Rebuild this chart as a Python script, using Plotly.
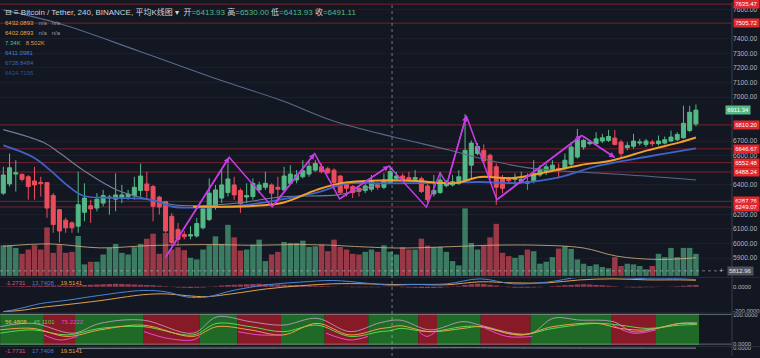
import plotly.graph_objects as go

# ---------------- data ----------------
bar_index = list(range(1, 113))

candle_open = [6344, 6407, 6474, 6472, 6456, 6427, 6418, 6416, 6328, 6231,
               6159, 6141, 6118, 6213, 6258, 6242, 6276, 6310, 6303, 6310,
               6321, 6326, 6362, 6407, 6389, 6317, 6287, 6186, 6096, 6062,
               6051, 6051, 6107, 6164, 6254, 6310, 6348, 6400, 6362, 6317,
               6321, 6366, 6384, 6400, 6384, 6366, 6411, 6434, 6456, 6474,
               6501, 6524, 6510, 6501, 6461, 6404, 6389, 6377, 6362, 6371,
               6400, 6384, 6413.93, 6445, 6461, 6450, 6438, 6443, 6393, 6339,
               6348, 6395, 6400, 6411, 6429, 6535, 6614, 6636, 6603, 6524,
               6445, 6438, 6438, 6423, 6423, 6423, 6468, 6490, 6501, 6513,
               6513, 6542, 6591, 6659, 6682, 6682, 6700, 6704, 6720, 6693,
               6655, 6664, 6686, 6677, 6693, 6682, 6686, 6700, 6709, 6722,
               6772, 6817]
candle_high = [6524, 6614, 6569, 6479, 6467, 6524, 6456, 6420, 6344, 6236,
               6175, 6152, 6490, 6411, 6299, 6344, 6366, 6332, 6479, 6400,
               6366, 6456, 6546, 6490, 6400, 6326, 6290, 6208, 6141, 6085,
               6118, 6175, 6242, 6445, 6400, 6501, 6546, 6456, 6377, 6411,
               6445, 6423, 6490, 6411, 6456, 6524, 6535, 6501, 6569, 6558,
               6569, 6546, 6524, 6513, 6467, 6423, 6400, 6393, 6423, 6468,
               6411, 6479, 6530.00, 6490, 6479, 6490, 6501, 6456, 6411, 6468,
               6490, 6434, 6468, 6501, 6884, 6704, 6686, 6677, 6614, 6546,
               6468, 6456, 6479, 6490, 6479, 6569, 6535, 6546, 6569, 6546,
               6614, 6693, 6783, 6715, 6704, 6760, 6749, 6776, 6776, 6709,
               6693, 6749, 6715, 6715, 6709, 6738, 6731, 6772, 6760, 6941,
               6941, 6950]
candle_low = [6332, 6389, 6355, 6423, 6299, 6299, 6321, 6175, 6073, 6006,
              6073, 6073, 6073, 6152, 6141, 6220, 6253, 6197, 6220, 6276,
              6299, 6299, 6321, 6299, 6152, 6197, 6073, 5983, 5983, 6028,
              6028, 6040, 6096, 6152, 6231, 6276, 6321, 6298, 6208, 6276,
              6299, 6344, 6366, 6254, 6299, 6355, 6400, 6411, 6445, 6456,
              6490, 6479, 6474, 6400, 6339, 6321, 6310, 6321, 6344, 6355,
              6366, 6371, 6413.93, 6434, 6423, 6423, 6434, 6344, 6276, 6321,
              6339, 6384, 6389, 6400, 6423, 6434, 6603, 6546, 6434, 6265,
              6343, 6411, 6400, 6411, 6366, 6411, 6456, 6468, 6490, 6445,
              6501, 6524, 6580, 6641, 6670, 6670, 6686, 6693, 6670, 6591,
              6636, 6648, 6670, 6659, 6664, 6670, 6677, 6693, 6700, 6715,
              6760, 6800]
candle_close = [6468, 6517, 6483, 6438, 6389, 6400, 6409, 6242, 6130, 6085,
                6107, 6107, 6265, 6310, 6236, 6303, 6328, 6316, 6332, 6332,
                6337, 6384, 6461, 6362, 6254, 6249, 6085, 6006, 6028, 6046,
                6060, 6136, 6236, 6344, 6366, 6400, 6441, 6332, 6272, 6328,
                6411, 6400, 6411, 6344, 6371, 6461, 6474, 6468, 6497, 6528,
                6546, 6490, 6483, 6416, 6348, 6377, 6348, 6355, 6393, 6427,
                6384, 6434, 6491.11, 6461, 6434, 6434, 6450, 6355, 6299, 6362,
                6434, 6420, 6423, 6456, 6636, 6686, 6663, 6564, 6456, 6384,
                6377, 6429, 6445, 6438, 6411, 6479, 6506, 6524, 6535, 6501,
                6569, 6659, 6715, 6704, 6693, 6715, 6722, 6731, 6677, 6614,
                6670, 6700, 6693, 6700, 6682, 6700, 6709, 6727, 6745, 6821,
                6896, 6911.34]
volume_k = [9.3, 9.3, 8.5, 6.7, 8.0, 9.3, 8.0, 14.7, 7.0, 9.5,
            7.0, 7.3, 12.1, 3.5, 4.3, 4.3, 6.5, 8.5, 9.7, 7.0,
            6.5, 8.7, 9.7, 11.3, 12.8, 6.7, 13.0, 8.0, 8.7, 7.8,
            5.5, 5.0, 8.0, 9.3, 12.0, 9.7, 15.5, 11.7, 7.7, 8.0,
            9.5, 11.0, 4.5, 6.5, 7.3, 10.3, 10.0, 10.0, 10.7, 8.8,
            9.0, 9.5, 7.5, 11.0, 8.8, 8.0, 6.7, 6.5, 7.3, 8.0,
            7.3, 9.3, 7.34, 6.5, 8.7, 8.0, 8.0, 11.3, 9.2, 8.7,
            8.8, 7.3, 4.5, 3.2, 20.5, 10.0, 8.0, 9.3, 11.7, 15.8,
            7.0, 6.0, 5.5, 6.3, 8.0, 7.5, 3.7, 4.3, 5.7, 8.3,
            9.0, 8.2, 5.0, 3.7, 3.0, 3.5, 2.7, 2.3, 5.7, 3.0,
            3.7, 3.5, 3.0, 2.0, 3.0, 6.7, 5.7, 8.5, 5.7, 8.5,
            8.5, 6.7]

vol_ma_x = [1, 8.5, 16.5, 24.5, 34.6, 40.5, 48.5, 53.8, 56.6, 63, 66.6, 74.6, 79, 87, 93.9, 99.3, 105.7, 112]
vol_ma_k = [9.0, 9.7, 8.5, 9.2, 9.5, 9.3, 9.5, 9.3, 9.0, 8.5, 8.5, 9.0, 9.3, 9.3, 8.5, 6.0, 5.0, 5.5]

ma_orange_x = [31.4, 40.5, 45.8, 51.2, 55.4, 63, 67.3, 71, 73.7, 77.4, 82.7, 88.1, 93.4, 98.7, 104.2, 109.4, 112]
ma_orange_y = [6251, 6255, 6278, 6366, 6414, 6432, 6427, 6414, 6414, 6454, 6447, 6488, 6535, 6569, 6636, 6691, 6724]

ma_blue_x = [1, 5.8, 8.5, 11.2, 13.8, 19.2, 24.5, 28.2, 32.5, 38.9, 45.3, 51.7, 55.8, 63, 72.6, 77.4, 83.8, 90.2, 96.1, 104.6, 112]
ma_blue_y = [6670, 6589, 6501, 6400, 6326, 6312, 6299, 6251, 6245, 6258, 6299, 6353, 6407, 6411, 6414, 6420, 6414, 6454, 6528, 6596, 6650]

ma_gray_x = [1, 7.4, 10.1, 13.8, 19.2, 24.5, 28.2, 32.5, 38.9, 45.8, 54.5, 58.2, 63, 72.6]
ma_gray_y = [6778, 6691, 6616, 6501, 6366, 6299, 6265, 6258, 6278, 6319, 6332, 6366, 6425, 6407]

ma_long_x = [1, 10.1, 22.9, 36.2, 45.8, 53.8, 63.4, 72.6, 77.4, 85.4, 93.4, 101.4, 112]
ma_long_y = [7596, 7501, 7312, 7110, 6974, 6839, 6729, 6637, 6582, 6515, 6488, 6468, 6434]

zigzag_x = [27.0, 37.2, 44.1, 50.9, 54.9, 62.8, 68.8, 71.0, 72.1, 75.2, 80.1, 93.7, 99.0]
zigzag_y = [5905, 6589, 6251, 6614, 6305, 6530, 6248, 6483, 6407, 6873, 6299, 6738, 6587]
zigzag_arrow_at = [1, 3, 5, 9, 11, 12]

level_prices = [7635.47, 7505.72, 6810.20, 6646.67, 6552.48, 6488.24, 6287.76, 6249.07]
# tick labels that are not hidden behind the level labels
price_ticks = [5900, 6000, 6100, 6200, 6400, 6600, 6700,
               7000, 7100, 7200, 7300, 7400, 7600]
crosshair_bar = 63.3
crosshair_price = 5812.96

macd_x = [1, 3.7, 6.9, 11.2, 16.5, 23.4, 27.2, 30.4, 33.6, 37.8, 43.3, 48.5, 53.8, 59.3,
          63, 66.7, 72.1, 77.4, 82.7, 88.1, 93.4, 98.7, 104.2, 109.4, 112]
macd_line = [-211, -183, -142, -114, -72, -31, -44, -86, -86, -31, 17, 39, 53, 30,
             13.74, 20, 25, 67, 25, 39, 81, 81, 67, 67, 60]
macd_signal = [-208, -200, -175, -150, -117, -67, -60, -75, -83, -58, -17, 8, 25, 25,
               19.51, 20, 17, 42, 33, 33, 58, 67, 58, 58, 55]
macd_hist = [3, 4, 5, 6, 7, 8, 9, 10, 10, 10,
             9, 8, 10, 14, 18, 20, 22, 24, 25, 24,
             22, 20, 18, 15, 12, 8, 4, -2, -6, -9,
             -10, -9, -6, -2, 4, 10, 14, 18, 20, 22,
             24, 25, 24, 22, 20, 18, 16, 14, 12, 10,
             8, 6, 4, 2, 0, -2, -4, -5, -5, -4,
             -3, -2, -1.27, -2, -4, -6, -8, -10, -11, -10,
             -8, -5, -2, 5, 14, 22, 26, 24, 18, 10,
             2, -4, -8, -9, -8, -6, -3, 0, 4, 8,
             12, 16, 20, 22, 20, 16, 12, 8, 4, 0,
             -4, -6, -6, -5, -4, -2, 0, 2, 4, 8,
             12, 15]

stoch_zone_edges = [0.5, 7.5, 12.5, 23.5, 32.5, 38.5, 45.5, 52.5, 59.5, 67.5, 70.5, 77.5, 85.5, 98.5, 105.5, 112.5]
stoch_zone_state = ['up', 'down', 'up', 'down', 'up', 'down', 'up', 'down', 'up', 'down', 'up', 'down', 'up', 'down', 'up']

stoch_lav_x = [0.5, 5.76, 12.17, 16.5, 23.39, 31.4, 35.25, 40.54, 45.82, 51.27, 56.56, 61.37, 64.57,
               69.38, 74.67, 77.39, 82.68, 85.72, 89.09, 93.42, 98.71, 101.91, 105.76, 109.45, 112.17]
stoch_lav_y = [59, 70, 37, 70, 81, 37, 92, 76, 64, 87, 42, 72, 81,
               48, 76, 64, 37, 37, 87, 81, 76, 42, 53, 70, 72]
stoch_org_x = [0.5, 5.76, 11.21, 16.5, 23.39, 31.4, 35.25, 40.54, 45.82, 51.27, 56.56, 61.37, 62.97, 64.57,
               69.38, 74.67, 77.39, 83.8, 89.09, 96.14, 99.83, 104.16, 109.45, 112.17]
stoch_org_y = [48, 53, 26, 48, 64, 26, 59, 48, 31, 70, 31, 52, 56.48, 62,
               42, 53, 59, 31, 59, 70, 53, 48, 70, 68]
stoch_grn_x = [0.5, 5.76, 11.21, 16.5, 23.39, 31.4, 35.25, 40.54, 45.82, 51.27, 56.56, 61.37, 62.97, 64.57,
               69.38, 74.67, 77.39, 83.8, 89.09, 96.14, 99.83, 104.16, 109.45, 112.17]
stoch_grn_y = [37, 48, 31, 53, 59, 31, 70, 59, 42, 64, 26, 42, 45.11, 53,
               42, 59, 59, 31, 53, 70, 64, 53, 64, 66]
stoch_pink_x = [7.52, 10.09, 12.81, None, 23.55, 27.23, 31.4, 32.52, None, 38.61, 42.14, 45.66, None,
                52.71, 56.56, 59.45, None, 67.62, 68.9, 70.66, None, 77.71, 81.72, 85.72, None,
                98.71, 101.91, 105.6]
stoch_pink_y = [31, 14, 26, None, 42, 20, 14, 26, None, 42, 31, 31, None,
                37, 14, 26, None, 42, 26, 48, None, 59, 26, 26, None,
                64, 37, 48]

p4_x = [12.8, 30, 50, 63, 75, 80, 95, 112]
p4_y = [0.0, 0.6, 1.0, 1.2, 2.0, 1.5, 0.8, 0.6]

header_labels = ['开', '高', '低', '收']
header_values = [6413.93, 6530.00, 6413.93, 6491.11]
legend_rows = [
    [('6432.0893', '#e9a23b'), ('n/a', '#9598a1'), ('n/a', '#9598a1')],
    [('6402.0893', '#e9a23b'), ('n/a', '#9598a1'), ('n/a', '#9598a1')],
    [('7.34K', '#5fb98c'), ('8.502K', '#d99a55')],
    [('6411.0981', '#4a7fd4')],
    [('6728.8484', '#3d63ad')],
    [('6424.7195', '#34508f')],
]
macd_legend = [('-1.2731', '#e0506a'), ('13.7408', '#3f7ed8'), ('19.5141', '#e8a040')]
stoch_legend = [('56.4808', '#e8c040'), ('45.1101', '#4fd04f'), ('75.2222', '#d84ad8')]
p4_legend = [('-1.7731', '#e0506a'), ('17.7408', '#3f7ed8'), ('19.5141', '#e8a040')]

# ---------------- style ----------------
BG = '#131722'
UP = '#53b987'
DN = '#eb4d5c'
FONT = 'Liberation Sans, Arial, Noto Sans CJK SC, DejaVu Sans'
H = 358.0
R_MARGIN = 28
PLOT_W = 732.0


def py(px):
    return 1 - px / H


fig = go.Figure()

vol_colors = ['rgba(83,185,135,0.62)' if c >= o else 'rgba(235,77,92,0.62)'
              for o, c in zip(candle_open, candle_close)]
fig.add_trace(go.Bar(x=bar_index, y=volume_k, marker=dict(color=vol_colors, line=dict(width=0)),
                     yaxis='y', xaxis='x'))
fig.add_trace(go.Scatter(x=vol_ma_x, y=vol_ma_k, mode='lines', line=dict(color='rgba(215,180,130,0.8)', width=1),
                         line_shape='spline', yaxis='y'))

for xs, ys, col, w in [(ma_long_x, ma_long_y, '#566a8c', 1.1),
                       (ma_gray_x, ma_gray_y, '#6f7f99', 1.1),
                       (ma_blue_x, ma_blue_y, '#3f63c8', 1.8),
                       (ma_orange_x, ma_orange_y, '#f2a02c', 2.0)]:
    fig.add_trace(go.Scatter(x=xs, y=ys, mode='lines', line=dict(color=col, width=w),
                             line_shape='spline', yaxis='y2'))

fig.add_trace(go.Candlestick(x=bar_index, open=candle_open, high=candle_high, low=candle_low,
                             close=candle_close, yaxis='y2', whiskerwidth=0,
                             increasing=dict(line=dict(color=UP, width=1), fillcolor=UP),
                             decreasing=dict(line=dict(color=DN, width=1), fillcolor=DN)))

ZZ = '#c73ce6'
fig.add_trace(go.Scatter(x=zigzag_x, y=zigzag_y, mode='lines', line=dict(color=ZZ, width=1.5), yaxis='y2'))

# MACD panel
fig.add_trace(go.Bar(x=bar_index, y=macd_hist, marker=dict(color='rgba(220,80,110,0.65)', line=dict(width=0)),
                     yaxis='y3'))
fig.add_trace(go.Scatter(x=macd_x, y=macd_signal, mode='lines', line=dict(color='#e0a050', width=1),
                         line_shape='spline', yaxis='y3'))
fig.add_trace(go.Scatter(x=macd_x, y=macd_line, mode='lines', line=dict(color='#4a86d8', width=1),
                         line_shape='spline', yaxis='y3'))

# stoch panel
fig.add_trace(go.Scatter(x=stoch_lav_x, y=stoch_lav_y, mode='lines', line=dict(color='rgba(205,170,215,0.75)', width=1),
                         line_shape='spline', yaxis='y4'))
fig.add_trace(go.Scatter(x=stoch_grn_x, y=stoch_grn_y, mode='lines', line=dict(color='#57d957', width=1),
                         line_shape='spline', yaxis='y4'))
fig.add_trace(go.Scatter(x=stoch_org_x, y=stoch_org_y, mode='lines', line=dict(color='#f0a040', width=1),
                         line_shape='spline', yaxis='y4'))
fig.add_trace(go.Scatter(x=stoch_pink_x, y=stoch_pink_y, mode='lines', line=dict(color='#e84ad8', width=1),
                         line_shape='spline', connectgaps=False, yaxis='y4'))

# bottom panel
fig.add_trace(go.Scatter(x=p4_x, y=p4_y, mode='lines', line=dict(color='#8d93a0', width=1),
                         line_shape='spline', yaxis='y5'))

shapes = []
for lv in level_prices:
    shapes.append(dict(type='line', xref='paper', x0=0, x1=1, yref='y2', y0=lv, y1=lv,
                       line=dict(color='rgba(200,40,52,0.55)', width=1), layer='below'))
for i, st in enumerate(stoch_zone_state):
    shapes.append(dict(type='rect', xref='x', x0=stoch_zone_edges[i], x1=stoch_zone_edges[i + 1],
                       yref='y4 domain', y0=0, y1=1, line=dict(width=0), layer='below',
                       fillcolor='#1e6a26' if st == 'up' else '#861a26'))
for yv in [100, 0]:
    shapes.append(dict(type='line', xref='paper', x0=0, x1=1, yref='y4', y0=yv, y1=yv,
                       line=dict(color='rgba(160,165,180,0.55)', width=1)))
for pxl in [278.5, 314.5, 348.5]:
    shapes.append(dict(type='line', xref='paper', x0=0, x1=760 / PLOT_W, yref='paper', y0=py(pxl), y1=py(pxl),
                       line=dict(color='#2a2e39', width=1)))
shapes.append(dict(type='line', xref='paper', x0=1, x1=1, yref='paper', y0=0, y1=1,
                   line=dict(color='#3a3e4a', width=1)))
shapes.append(dict(type='line', xref='x', x0=crosshair_bar, x1=crosshair_bar, yref='paper', y0=0, y1=1,
                   line=dict(color='rgba(190,195,205,0.55)', width=1, dash='dot')))
shapes.append(dict(type='line', xref='paper', x0=0, x1=0.985, yref='y2', y0=crosshair_price, y1=crosshair_price,
                   line=dict(color='rgba(190,195,205,0.55)', width=1, dash='dot')))

ann = []
# zigzag arrowheads
for i in zigzag_arrow_at:
    ann.append(dict(x=zigzag_x[i], y=zigzag_y[i], xref='x', yref='y2', ax=zigzag_x[i - 1], ay=zigzag_y[i - 1],
                    axref='x', ayref='y2', showarrow=True, arrowhead=2, arrowsize=0.75, arrowwidth=1.5,
                    arrowcolor=ZZ, text=''))

# price labels
for lv in level_prices:
    ann.append(dict(x=1, xref='paper', xanchor='left', xshift=1, y=lv, yref='y2', yanchor='middle',
                    text=f'{lv:.2f}', showarrow=False, bgcolor='#e0282e', borderpad=1.2,
                    font=dict(family=FONT, size=6, color='white')))
ann.append(dict(x=1, xref='paper', xanchor='left', xshift=-7, y=candle_close[-1], yref='y2', yanchor='middle',
                text=f'{candle_close[-1]:.2f}', showarrow=False, bgcolor=UP, borderpad=1.2,
                font=dict(family=FONT, size=6, color='white')))
ann.append(dict(x=1, xref='paper', xanchor='left', xshift=-5, y=crosshair_price, yref='y2', yanchor='middle',
                text=f'{crosshair_price:.2f}', showarrow=False, bgcolor='#4f535e', borderpad=1.2,
                font=dict(family=FONT, size=6, color='#e0e3eb')))
ann.append(dict(x=0.985, xref='paper', xanchor='center', y=crosshair_price, yref='y2', yanchor='middle',
                text='+', showarrow=False, font=dict(family=FONT, size=8, color='#b2b5be')))

# header
vals = ' '.join(f"{lab}<span style='color:#53b987'>={v:.2f}</span>" for lab, v in zip(header_labels, header_values))
header = "⊟ ≡ Bitcoin / Tether, 240, BINANCE, 平均K线图 ▾&nbsp;&nbsp;" + vals
ann.append(dict(x=3 / PLOT_W, xref='paper', xanchor='left', y=py(10), yref='paper', yanchor='middle',
                text=header, showarrow=False, font=dict(family=FONT, size=8, color='#d1d4dc')))


def row_text(items, gap='&nbsp;&nbsp;&nbsp;'):
    return gap.join(f"<span style='color:{c}'>{t}</span>" for t, c in items)


for i, row in enumerate(legend_rows):
    ann.append(dict(x=3 / PLOT_W, xref='paper', xanchor='left', y=py(21 + i * 10.2), yref='paper',
                    yanchor='middle', text=row_text(row), showarrow=False,
                    font=dict(family=FONT, size=6, color='#b2b5be')))
for items, ypx in [(macd_legend, 284.3), (stoch_legend, 323.3), (p4_legend, 353.3)]:
    ann.append(dict(x=3 / PLOT_W, xref='paper', xanchor='left', y=py(ypx), yref='paper', yanchor='middle',
                    text=row_text(items, '&nbsp;&nbsp;&nbsp;&nbsp;'), showarrow=False,
                    font=dict(family=FONT, size=6, color='#b2b5be')))

tickfont_main = dict(family=FONT, size=6.7, color='#b2b5be')
tickfont_low = dict(family=FONT, size=5.9, color='#b2b5be')

fig.update_layout(
    width=760, height=358, margin=dict(l=0, r=R_MARGIN, t=0, b=0),
    paper_bgcolor=BG, plot_bgcolor=BG, showlegend=False, hovermode=False,
    bargap=0.12, boxgap=0.2, boxgroupgap=0.2,
    xaxis=dict(range=[0.47, 117.78], showticklabels=False, showgrid=False, zeroline=False,
               rangeslider=dict(visible=False), fixedrange=True),
    yaxis=dict(domain=[py(278), 1], range=[-0.3, 83.1], visible=False, fixedrange=True),
    yaxis2=dict(domain=[py(278), 1], overlaying='y', side='right', range=[5771.6, 7650],
                tickvals=price_ticks, ticktext=[f'{t:.2f}' for t in price_ticks],
                tickfont=tickfont_main, showgrid=True, gridcolor='#1b1f2b', zeroline=False,
                ticks='', fixedrange=True),
    yaxis3=dict(domain=[py(314), py(279)], range=[-216.7, 75], side='right',
                tickvals=[0, -200], ticktext=['0.0000', '-200.0000'], tickfont=tickfont_low,
                showgrid=False, zeroline=False, ticks='', fixedrange=True),
    yaxis4=dict(domain=[py(347), py(315)], range=[-3.33, 103.33], side='right',
                tickvals=[100, 0], ticktext=['100.0000', '0.0000'], tickfont=tickfont_low,
                showgrid=False, zeroline=False, ticks='', fixedrange=True),
    yaxis5=dict(domain=[0, py(349)], range=[-26, 4], side='right',
                tickvals=[0], ticktext=['0.0000'], tickfont=tickfont_low,
                showgrid=False, zeroline=False, ticks='', fixedrange=True),
    shapes=shapes, annotations=ann,
)

fig.write_html('out.html', config={'displayModeBar': False, 'staticPlot': True},
               post_script="document.body.style.margin='0';document.body.style.overflow='hidden';"
                           "document.documentElement.style.background='#131722';")
